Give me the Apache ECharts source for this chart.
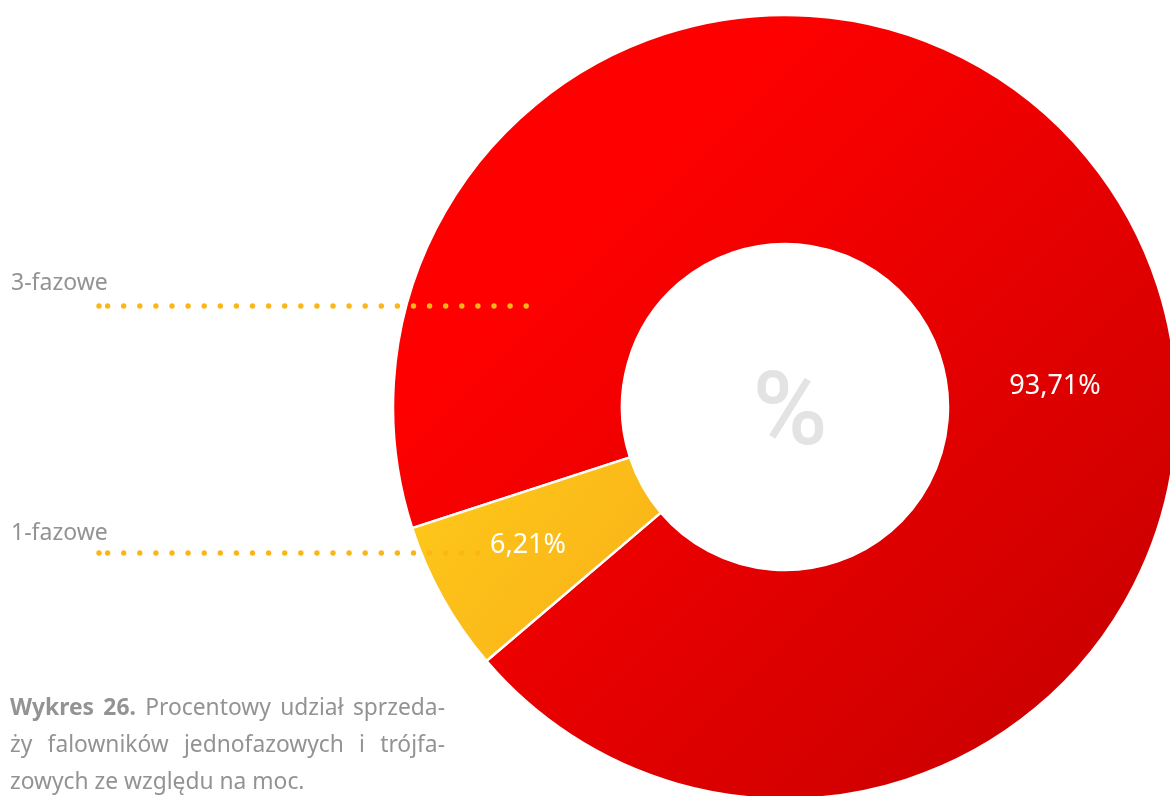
<!DOCTYPE html>
<html>
<head>
<meta charset="utf-8">
<script src="https://cdn.jsdelivr.net/npm/echarts@6/dist/echarts.min.js"></script>
<style>
  html, body { margin: 0; padding: 0; background: #ffffff; }
  #chart { width: 1170px; height: 796px; }
</style>
</head>
<body>
<div id="chart"></div>
<script>
// Share of inverter sales by phase type (percent)
const categories = ['3-fazowe', '1-fazowe'];
const shares = [93.71, 6.21];
const captionBold = 'Wykres 26.';
const captionText = 'Procentowy udział sprzeda- ży falowników jednofazowych i trójfa- zowych ze względu na moc.';

const FONT = '"Noto Sans", "Open Sans", sans-serif';
const GREY = '#939393';
const DOT = '#fbb616';
const CAP_SIZE = 22.8;

const fmt = v => v.toFixed(2).replace('.', ',') + '%';

const chart = echarts.init(document.getElementById('chart'), null, { renderer: 'canvas' });

// dotted leader rows next to the category names
function dotRow(y, xEnd) {
  const dots = [{ type: 'circle', shape: { cx: 99, cy: y, r: 2.7 }, style: { fill: DOT }, z: 100 }];
  for (let x = 107.6; x <= xEnd + 0.5; x += 16.1) {
    dots.push({ type: 'circle', shape: { cx: x, cy: y, r: 2.7 }, style: { fill: DOT }, z: 100 });
  }
  return dots;
}

// justified caption: words spread across a fixed width
const measureCtx = document.createElement('canvas').getContext('2d');
function capFont(bold) {
  return (bold ? 'bold ' : '') + CAP_SIZE + 'px ' + FONT;
}
function wordWidth(t, bold) {
  measureCtx.font = capFont(bold);
  return measureCtx.measureText(t).width;
}
function captionLine(words, y, x0, x1, justify) {
  const widths = words.map(w => wordWidth(w.t, w.b));
  const total = widths.reduce((a, b) => a + b, 0);
  const gap = justify ? (x1 - x0 - total) / (words.length - 1) : wordWidth(' ', false);
  const out = [];
  let x = x0;
  words.forEach((w, i) => {
    out.push({
      type: 'text', x: x, y: y, z: 100,
      style: {
        text: w.t, fill: GREY, font: capFont(w.b),
        textAlign: 'left', textVerticalAlign: 'middle'
      }
    });
    x += widths[i] + gap;
  });
  return out;
}

const capWords = captionText.split(' ');
const line1 = captionBold.split(' ').map(t => ({ t, b: true }))
  .concat(capWords.slice(0, 3).map(t => ({ t })));
const line2 = capWords.slice(3, 8).map(t => ({ t }));
const line3 = capWords.slice(8).map(t => ({ t }));

const graphics = [
  { type: 'text', x: 11, y: 283, z: 100,
    style: { text: categories[0], fill: GREY, font: '23px ' + FONT, textVerticalAlign: 'middle' } },
  { type: 'text', x: 11, y: 533, z: 100,
    style: { text: categories[1], fill: GREY, font: '23px ' + FONT, textVerticalAlign: 'middle' } },
  { type: 'text', x: 790, y: 418, z: 100,
    style: { text: '%', fill: '#e3e3e3', font: '500 102px Roboto, ' + FONT, textAlign: 'center', textVerticalAlign: 'middle' } }
]
  .concat(dotRow(306, 526))
  .concat(dotRow(553, 478))
  .concat(captionLine(line1, 709, 10, 445, true))
  .concat(captionLine(line2, 746, 10, 445, true))
  .concat(captionLine(line3, 783, 10, 445, false));

const sliceColors = [
  new echarts.graphic.LinearGradient(0, 0, 1, 1, [
    { offset: 0.25, color: '#ff0000' }, { offset: 1, color: '#c20000' }
  ]),
  new echarts.graphic.LinearGradient(0, 0, 1, 1, [
    { offset: 0, color: '#fec91a' }, { offset: 1, color: '#f9b018' }
  ])
];

// label anchor points for each slice
const labelPos = [[1055, 386], [528, 545]];

chart.setOption({
  animation: false,
  backgroundColor: '#ffffff',
  graphic: { elements: graphics },
  series: [{
    type: 'pie',
    center: [785, 407],
    radius: [163, 392],
    startAngle: 198,
    clockwise: true,
    silent: true,
    itemStyle: { borderColor: '#ffffff', borderWidth: 2.5 },
    label: {
      show: true,
      position: 'inside',
      color: '#ffffff',
      fontFamily: FONT,
      fontSize: 27,
      formatter: p => fmt(p.value)
    },
    labelLine: { show: false },
    labelLayout: p => ({ x: labelPos[p.dataIndex][0], y: labelPos[p.dataIndex][1], align: 'center', verticalAlign: 'middle' }),
    data: categories.map((name, i) => ({
      name, value: shares[i], itemStyle: { color: sliceColors[i] }
    }))
  }]
});
</script>
</body>
</html>
